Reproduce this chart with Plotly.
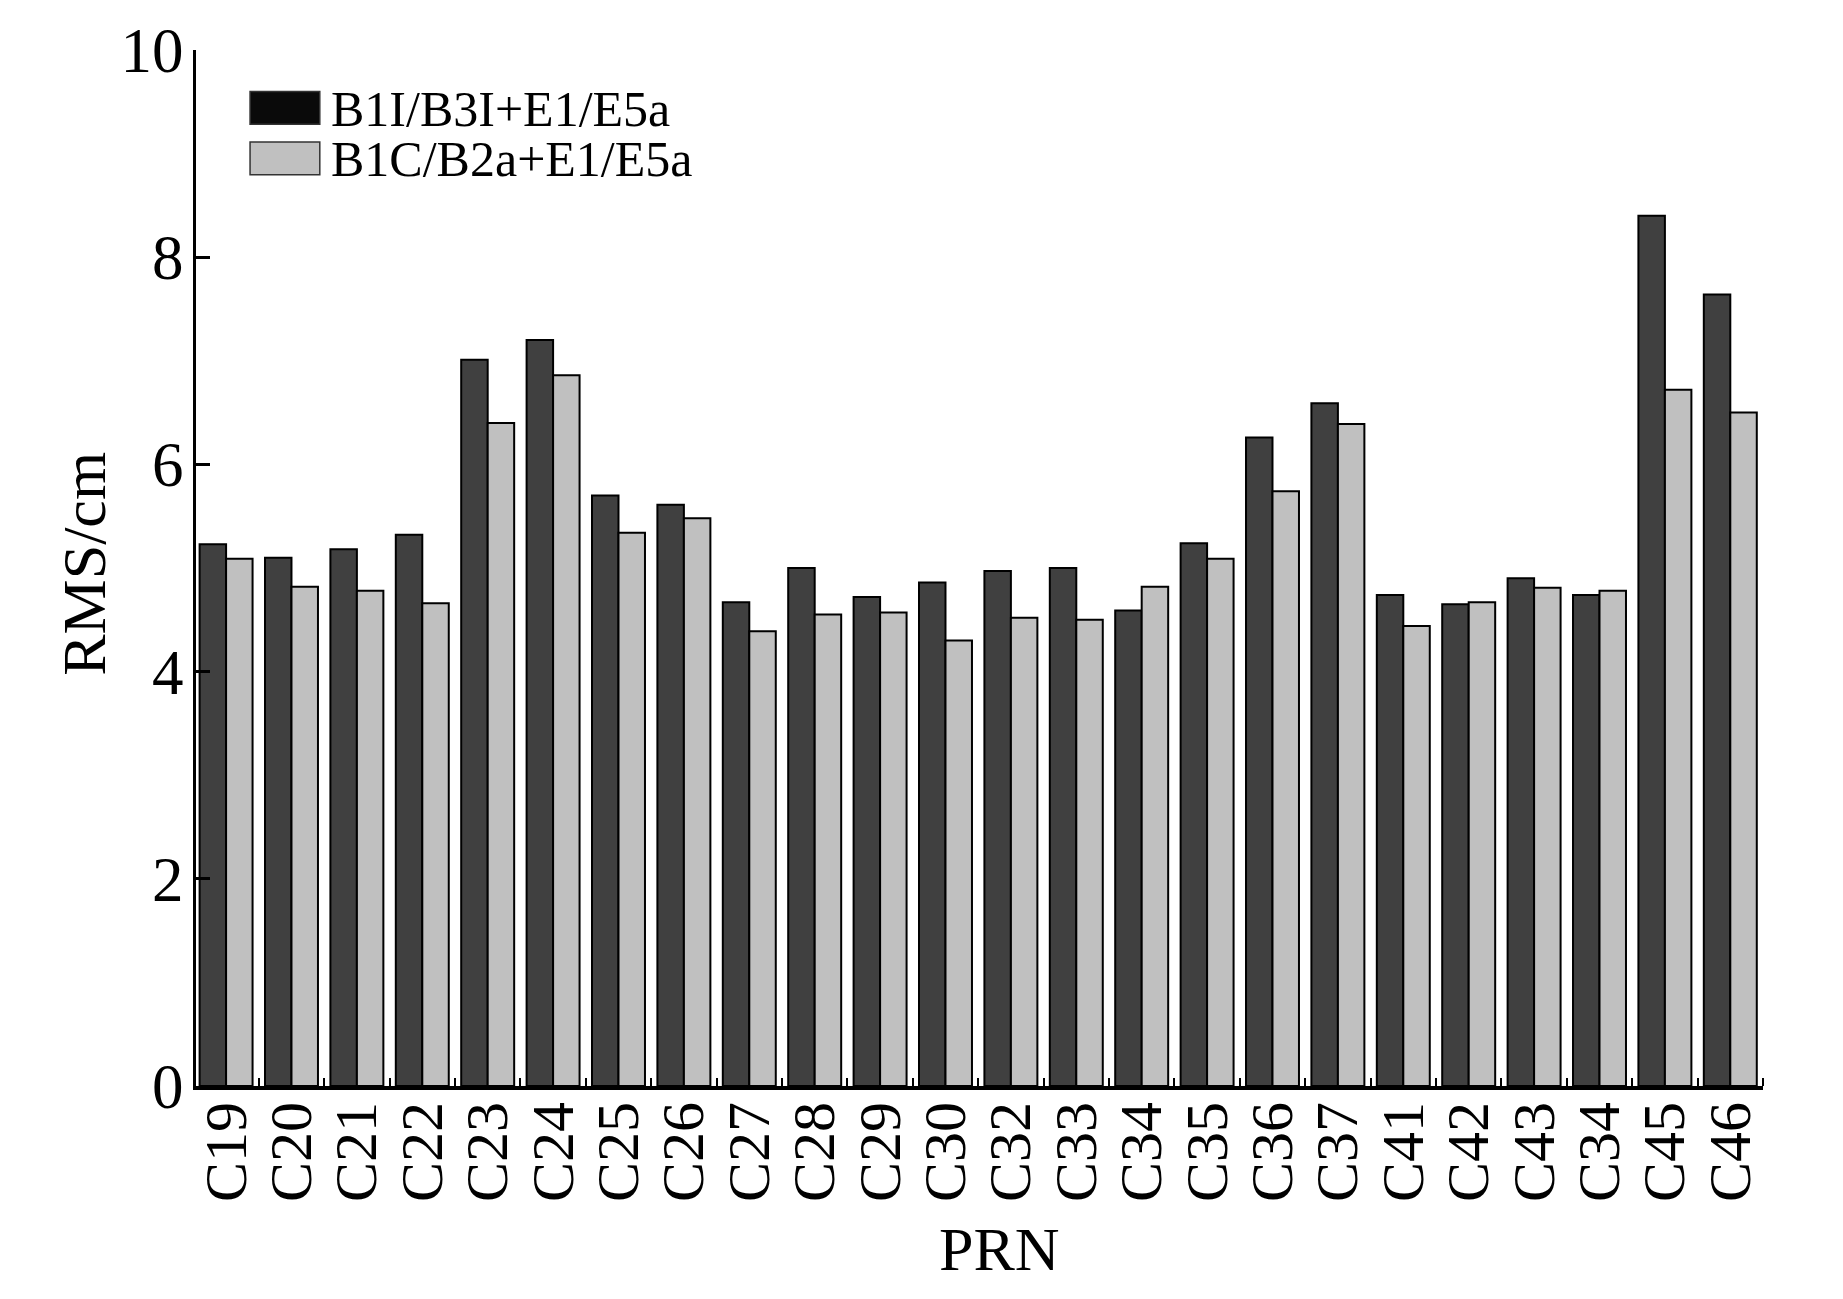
import plotly.graph_objects as go

prn = ["C19", "C20", "C21", "C22", "C23", "C24", "C25", "C26", "C27", "C28", "C29", "C30",
       "C32", "C33", "C34", "C35", "C36", "C37", "C41", "C42", "C43", "C34", "C45", "C46"]
rms_b1i_b3i = [5.23, 5.10, 5.18, 5.32, 7.01, 7.20, 5.70, 5.61, 4.67, 5.00, 4.72, 4.86,
               4.97, 5.00, 4.59, 5.24, 6.26, 6.59, 4.74, 4.65, 4.90, 4.74, 8.40, 7.64]
rms_b1c_b2a = [5.09, 4.82, 4.78, 4.66, 6.40, 6.86, 5.34, 5.48, 4.39, 4.55, 4.57, 4.30,
               4.52, 4.50, 4.82, 5.09, 5.74, 6.39, 4.44, 4.67, 4.81, 4.78, 6.72, 6.50]
series_names = ["B1I/B3I+E1/E5a", "B1C/B2a+E1/E5a"]
y_ticks = [0, 2, 4, 6, 8, 10]

FONT = "Liberation Serif, Times New Roman, serif"
x = list(range(len(prn)))

fig = go.Figure()
fig.add_trace(go.Bar(x=x, y=rms_b1i_b3i, name=series_names[0],
                     marker=dict(color="#404040", line=dict(color="black", width=2))))
fig.add_trace(go.Bar(x=x, y=rms_b1c_b2a, name=series_names[1],
                     marker=dict(color="#c0c0c0", line=dict(color="black", width=2))))

# custom legend (large boxes like the reference)
legend_colors = ["#0a0a0a", "#c0c0c0"]
for i, (nm, col) in enumerate(zip(series_names, legend_colors)):
    ytop = 0.960 - i * 0.0488
    fig.add_shape(type="rect", xref="paper", yref="paper",
                  x0=0.0345, x1=0.0790, y0=ytop - 0.0317, y1=ytop,
                  fillcolor=col, line=dict(color="#333", width=1.5))
    fig.add_annotation(xref="paper", yref="paper", x=0.0858, y=ytop - 0.0165,
                       text=nm, showarrow=False, xanchor="left", yanchor="middle",
                       borderpad=0,
                       font=dict(family=FONT, size=50, color="black"))

# axis titles
fig.add_annotation(xref="paper", yref="paper", x=-0.0715, y=0.504, text="RMS/cm",
                   textangle=-90, showarrow=False, xanchor="center", yanchor="middle",
                   font=dict(family=FONT, size=62, color="black"))
fig.add_annotation(xref="paper", yref="paper", x=0.513, y=-0.157, text="PRN",
                   showarrow=False, xanchor="center", yanchor="middle",
                   font=dict(family=FONT, size=62, color="black"))

fig.update_layout(
    width=1843, height=1283,
    margin=dict(l=196, r=80, t=50, b=197),
    paper_bgcolor="white", plot_bgcolor="white",
    barmode="group", bargap=0.19, bargroupgap=0,
    showlegend=False,
    font=dict(family=FONT, color="black"),
)
fig.update_xaxes(
    range=[-0.46, 23.5], tickmode="array", tickvals=x, ticktext=prn,
    tickangle=-90, tickfont=dict(family=FONT, size=60, color="black"),
    ticklabelstandoff=-12,
    ticks="", showgrid=False, zeroline=False,
    showline=True, linecolor="black", linewidth=4,
    minor=dict(tickmode="array", tickvals=[i + 0.5 for i in range(len(prn))],
               ticks="inside", ticklen=8, tickwidth=2, tickcolor="black", showgrid=False),
)
fig.update_yaxes(
    range=[0, 10], tickmode="array", tickvals=y_ticks,
    tickfont=dict(family=FONT, size=63, color="black"),
    ticklabelstandoff=-3,
    ticks="inside", ticklen=14, tickwidth=3, tickcolor="black",
    showgrid=False, zeroline=False,
    showline=True, linecolor="black", linewidth=3,
)

fig.write_html("out.html", config={"displayModeBar": False},
               post_script="document.body.style.margin='0px';document.body.style.overflow='hidden';")
